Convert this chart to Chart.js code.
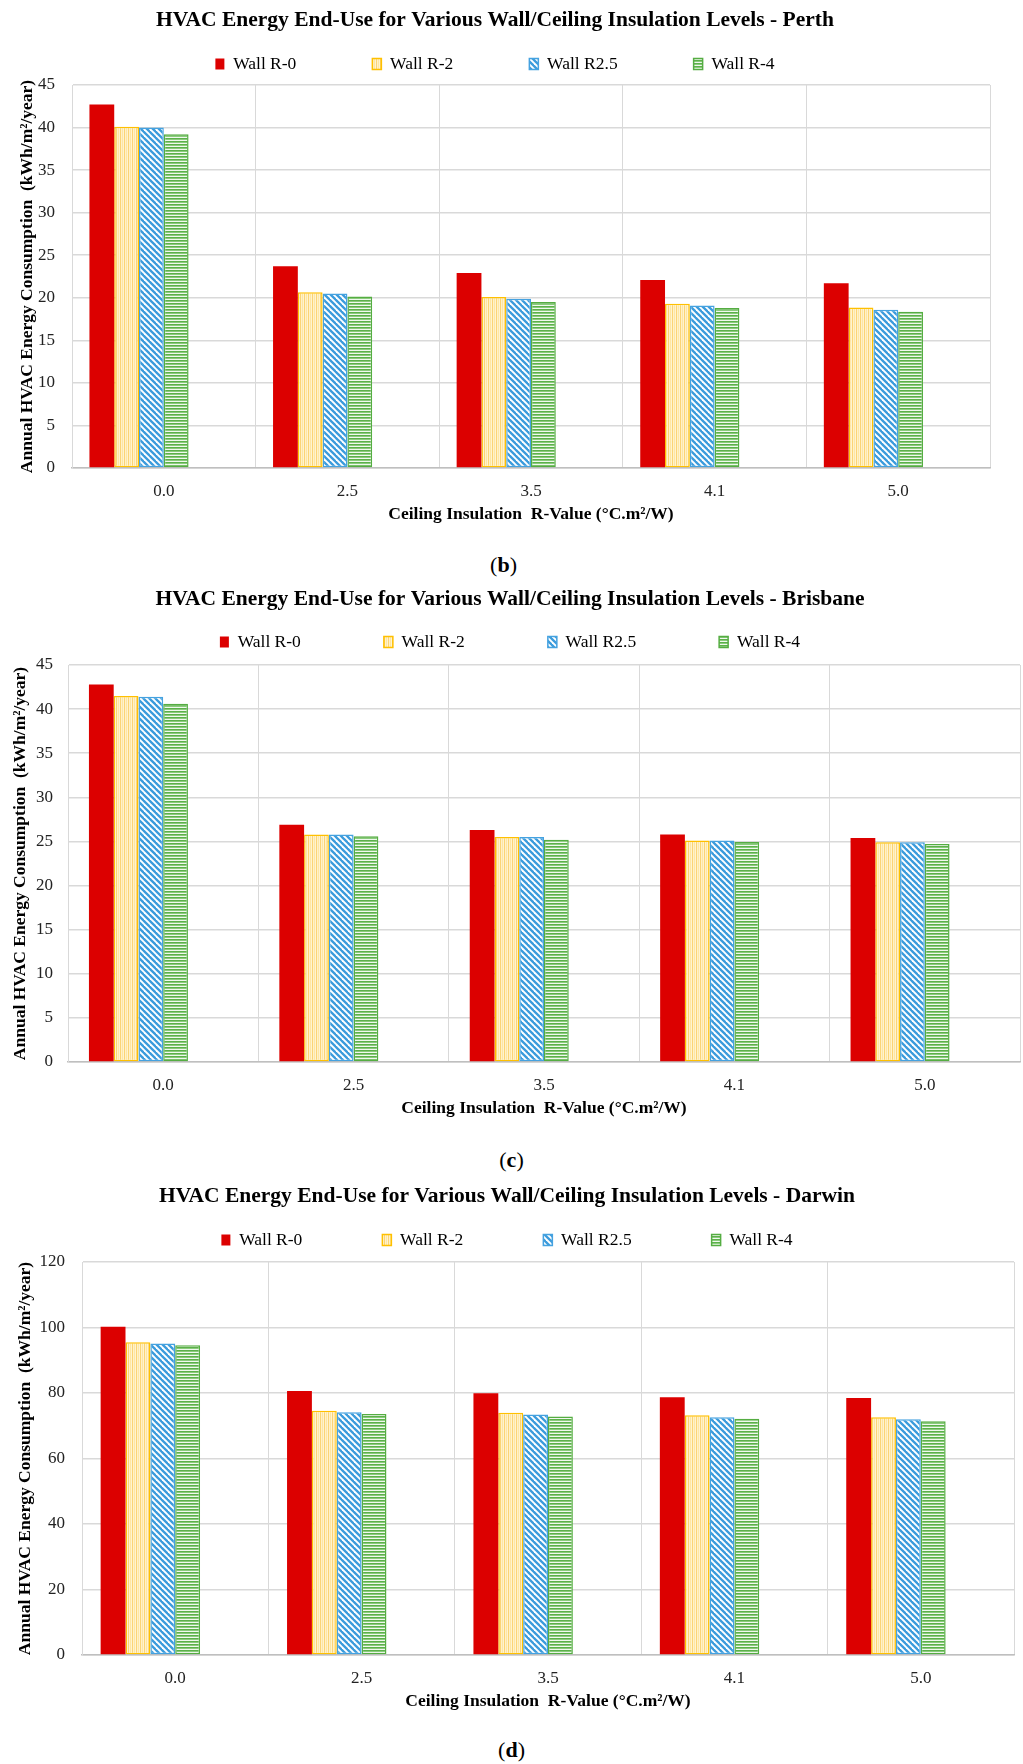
<!DOCTYPE html>
<html><head><meta charset="utf-8">
<script src="https://cdn.jsdelivr.net/npm/chart.js@4.4.1/dist/chart.umd.min.js"></script>
<style>
html,body{margin:0;padding:0;background:#fff;}
body{width:1023px;height:1764px;position:relative;overflow:hidden;font-family:"Liberation Serif","Times New Roman",serif;}
canvas{position:absolute;left:0;}
.cap{position:absolute;left:0;width:1023px;text-align:center;font-size:22px;color:#000;line-height:24px;}
</style></head><body>
<canvas id="c1" width="1023" height="526" style="top:0px"></canvas>
<div class="cap" style="top:553px;left:-8px">(<b>b</b>)</div>
<canvas id="c2" width="1023" height="541" style="top:579px"></canvas>
<div class="cap" style="top:1148px">(<b>c</b>)</div>
<canvas id="c3" width="1023" height="537" style="top:1176px"></canvas>
<div class="cap" style="top:1738px">(<b>d</b>)</div>
<script>
// ---- data ----
const categories = ['0.0', '2.5', '3.5', '4.1', '5.0'];
const seriesNames = ['Wall R-0', 'Wall R-2', 'Wall R2.5', 'Wall R-4'];

const perthWallR0  = [42.7, 23.7, 22.9, 22.1, 21.7];
const perthWallR2  = [40.1, 20.65, 20.1, 19.3, 18.85];
const perthWallR25 = [40.0, 20.5, 19.9, 19.1, 18.6];
const perthWallR4  = [39.2, 20.15, 19.5, 18.8, 18.35];

const brisbaneWallR0  = [42.8, 26.9, 26.3, 25.8, 25.4];
const brisbaneWallR2  = [41.5, 25.8, 25.5, 25.1, 24.9];
const brisbaneWallR25 = [41.4, 25.8, 25.5, 25.1, 24.9];
const brisbaneWallR4  = [40.6, 25.6, 25.2, 24.95, 24.7];

const darwinWallR0  = [100.2, 80.6, 79.9, 78.7, 78.5];
const darwinWallR2  = [95.5, 74.6, 74.0, 73.2, 72.6];
const darwinWallR25 = [95.1, 74.1, 73.4, 72.6, 72.0];
const darwinWallR4  = [94.6, 73.6, 72.8, 72.1, 71.4];

const titles = [
  'HVAC Energy End-Use for Various Wall/Ceiling Insulation Levels - Perth',
  'HVAC Energy End-Use for Various Wall/Ceiling Insulation Levels - Brisbane',
  'HVAC Energy End-Use for Various Wall/Ceiling Insulation Levels - Darwin'
];
const yAxisTitle = 'Annual HVAC Energy Consumption  (kWh/m\u00B2/year)';
const xAxisTitle = 'Ceiling Insulation  R-Value (\u00B0C.m\u00B2/W)';

// ---- legend patch: separate horizontal item spacing from vertical box size ----
(function(){
  const L = Chart.Legend && Chart.Legend._element && Chart.Legend._element.prototype;
  if (!L || !L.fit || !L._draw) return;
  const fit0 = L.fit, draw0 = L._draw;
  L.fit = function(){
    fit0.call(this);
    const cfg = this.chart && this.chart.canvas && this.chart.canvas.$legendBox;
    if (cfg && this.isHorizontal() && this.options.display) this.height = cfg.height;
  };
  L._draw = function(){
    const cfg = this.chart && this.chart.canvas && this.chart.canvas.$legendBox;
    if (!cfg) return draw0.call(this);
    const shift = this.options.labels.padding - cfg.textTop;
    this.top -= shift;
    try { draw0.call(this); } finally { this.top += shift; }
  };
})();

Chart.defaults.font.family = "'Liberation Serif','Times New Roman',serif";
Chart.defaults.color = '#000';

function tile(w, h, paint) {
  const c = document.createElement('canvas');
  c.width = w; c.height = h;
  const x = c.getContext('2d');
  paint(x, w, h);
  return x.createPattern(c, 'repeat');
}
const redFill = '#DC0000';
const yellowFill = tile(4, 1, (x) => {
  const cols = ['#FBD475', '#FFF1C9', '#FEE6A2', '#FFF3D0'];
  cols.forEach((c, i) => { x.fillStyle = c; x.fillRect(i, 0, 1, 1); });
});
const blueFill = tile(6, 6, (x, w, h) => {
  x.fillStyle = '#fff'; x.fillRect(0, 0, w, h);
  x.strokeStyle = '#3A9BDC'; x.lineWidth = 2.3;
  for (let k = -1; k <= 1; k++) {
    x.beginPath(); x.moveTo(k * w - 1, -1); x.lineTo(k * w + w + 1, h + 1); x.stroke();
  }
});
const greenFill = tile(1, 3, (x) => {
  const rows = ['#5CB04A', '#8ACB7C', '#F0F8EE'];
  rows.forEach((c, i) => { x.fillStyle = c; x.fillRect(0, i, 1, 1); });
});

const styles = [
  { bg: redFill, border: '#DC0000' },
  { bg: yellowFill, border: '#FFC000' },
  { bg: blueFill, border: '#45A2E0' },
  { bg: greenFill, border: '#55AD42' }
];

const GRID = '#D9D9D9';

function build(id, seriesData, opt) {
  const canvas = document.getElementById(id);
  canvas.$legendBox = { height: opt.legendHeight, textTop: opt.legendTextTop };
  const datasets = seriesData.map((d, i) => ({
    label: seriesNames[i],
    data: d,
    backgroundColor: styles[i].bg,
    borderColor: styles[i].border,
    borderWidth: i === 0 ? 0 : 1.5,
    borderSkipped: false
  }));
  // two empty series slots, as in the source chart's grouping
  datasets.push({ label: '', data: categories.map(() => null), backgroundColor: 'rgba(0,0,0,0)' });
  datasets.push({ label: '', data: categories.map(() => null), backgroundColor: 'rgba(0,0,0,0)' });

  return new Chart(canvas, {
    type: 'bar',
    data: { labels: categories, datasets },
    options: {
      responsive: false,
      animation: false,
      devicePixelRatio: 1,
      datasets: { bar: { barPercentage: 1.0, categoryPercentage: opt.catPct } },
      layout: { padding: { left: 0, right: opt.padRight, top: 0, bottom: 0 } },
      plugins: {
        tooltip: { enabled: false },
        title: {
          display: true, text: opt.title, color: '#000',
          font: { size: 21.5, weight: 'bold' },
          padding: { top: 7.1, bottom: 0 }
        },
        legend: {
          display: true, position: 'top', align: 'center',
          labels: {
            boxWidth: 9, boxHeight: 11,
            padding: opt.legendPad,
            color: '#000',
            font: { size: 17.5 },
            filter: (item) => item.text !== ''
          }
        }
      },
      scales: {
        x: {
          grid: { display: true, color: GRID, lineWidth: 1, drawTicks: false, offset: true },
          border: { display: true, color: '#BFBFBF', width: 1.5 },
          ticks: { color: '#222', font: { size: 17 }, padding: 13 },
          title: {
            display: true, text: xAxisTitle, color: '#000',
            font: { size: 17.5, weight: 'bold' },
            padding: { top: 0, bottom: 1 }
          },
          afterFit: (s) => { s.height = 58; }
        },
        y: {
          min: 0, max: opt.yMax,
          grid: { color: GRID, lineWidth: 1.5, drawTicks: false },
          border: { display: true, color: GRID, width: 1 },
          ticks: { stepSize: opt.yStep, color: '#222', font: { size: 17 }, padding: opt.yTickPad },
          title: {
            display: true, text: yAxisTitle, color: '#000',
            font: { size: 17.5, weight: 'bold' },
            padding: { top: opt.yTitleTop, bottom: 0 }
          },
          afterFit: (s) => { s.width = opt.yWidth; }
        }
      }
    }
  });
}

build('c1', [perthWallR0, perthWallR2, perthWallR25, perthWallR4], {
  title: titles[0], padRight: 33, catPct: 0.81, legendPad: 76,
  legendHeight: 52.1, legendTextTop: 22.35,
  yMax: 45, yStep: 5, yWidth: 72, yTickPad: 17, yTitleTop: 16.5
});
build('c2', [brisbaneWallR0, brisbaneWallR2, brisbaneWallR25, brisbaneWallR4], {
  title: titles[1], padRight: 3, catPct: 0.78, legendPad: 83,
  legendHeight: 53.1, legendTextTop: 21.35,
  yMax: 45, yStep: 5, yWidth: 68, yTickPad: 15, yTitleTop: 9.5
});
build('c3', [darwinWallR0, darwinWallR2, darwinWallR25, darwinWallR4], {
  title: titles[2], padRight: 9, catPct: 0.80, legendPad: 80,
  legendHeight: 53.1, legendTextTop: 22.35,
  yMax: 120, yStep: 20, yWidth: 82, yTickPad: 17, yTitleTop: 14.5
});
</script>
</body></html>
